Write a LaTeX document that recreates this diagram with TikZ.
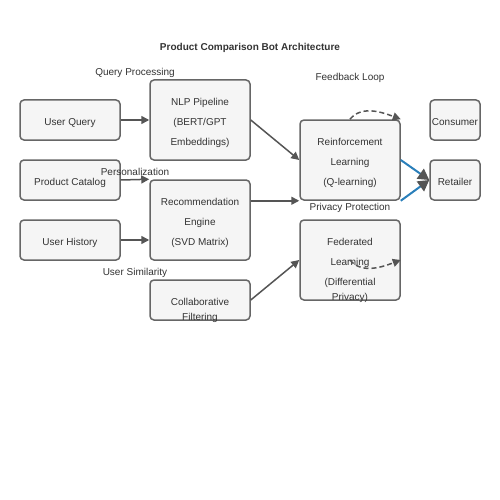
\documentclass[tikz,border=0pt]{standalone}
\usepackage{fontspec}
\setmainfont{Liberation Sans}
\usetikzlibrary{arrows.meta, positioning}

\definecolor{boxfill}{HTML}{F5F5F5}
\definecolor{boxline}{HTML}{666666}
\definecolor{arrgray}{HTML}{555555}
\definecolor{txtgray}{HTML}{333333}
\definecolor{linkblue}{HTML}{2A7FBA}

\newcommand{\boxlines}[1]{\begin{tabular}[t]{@{}c@{}}#1\end{tabular}}

\tikzset{
  blk/.style={draw=boxline, fill=boxfill, line width=1.5pt, rounded corners=4pt,
    minimum width=100pt, minimum height=40pt, inner sep=0pt},
  tall/.style={minimum height=80pt},
  narrow/.style={minimum width=50pt},
  txt/.style={font=\fontsize{10}{20}\selectfont, text=txtgray, anchor=base, inner sep=0pt},
  flow/.style={draw=arrgray, line width=1.5pt, -{Triangle[length=8pt, width=8pt]}},
  link/.style={draw=linkblue, line width=2pt, -{Triangle[length=11pt, width=12pt, color=arrgray]}},
}

\begin{document}
\begin{tikzpicture}[x=1pt, y=-1pt]
        \useasboundingbox (0, 0) rectangle (500, 500);

        \node[txt, font=\bfseries\fontsize{10}{12}\selectfont] (title) at (250, 50.5)
          {Product Comparison Bot Architecture};

        % inputs
        \node[blk] (uq) at (70, 120) {};
        \node[blk] (pc) at (70, 180) {};
        \node[blk] (uh) at (70, 240) {};

        % models
        \node[blk, tall] (nlp) at (200, 120) {};
        \node[blk, tall] (rec) at (200, 220) {};
        \node[blk] (cf) at (200, 300) {};
        \node[blk, tall] (rl) at (350, 160) {};
        \node[blk, tall] (fl) at (350, 260) {};

        % outputs
        \node[blk, narrow] (con) at (455, 120) {};
        \node[blk, narrow] (ret) at (455, 180) {};

        \path (uq.north) ++(0, 26.5) node[txt] (uqt) {User Query};
        \path (pc.north) ++(0, 26.5) node[txt] (pct) {Product Catalog};
        \path (uh.north) ++(0, 26.5) node[txt] (uht) {User History};
        \path (nlp.north) ++(0, 26.5) node[txt] (nlpt)
          {\boxlines{NLP Pipeline\\(BERT/GPT\\Embeddings)}};
        \path (rec.north) ++(0, 26.5) node[txt] (rect)
          {\boxlines{Recommendation\\Engine\\(SVD Matrix)}};
        \path (cf.north) ++(0, 26.5) node[txt] (cft)
          {\boxlines{Collaborative\\[-5pt]Filtering}};
        \path (rl.north) ++(0, 26.5) node[txt] (rlt)
          {\boxlines{Reinforcement\\Learning\\(Q-learning)}};
        \path (fl.north) ++(0, 26.5) node[txt] (flt)
          {\boxlines{Federated\\Learning\\(Differential\\[-5pt]Privacy)}};
        \path (con.north) ++(0, 26.5) node[txt] (cont) {Consumer};
        \path (ret.north) ++(0, 26.5) node[txt] (rett) {Retailer};

        % section labels
        \node[txt] (qp) at (135, 75.5) {Query Processing};
        \node[txt] (pers) at (135, 175) {Personalization};
        \node[txt] (usim) at (135, 275) {User Similarity};
        \node[txt] (fb) at (350, 80.5) {Feedback Loop};
        \node[txt] (priv) at (350, 210) {Privacy Protection};

        \draw[flow] (uq.east) -- (nlp.west);
        \draw[flow] (pc.east) -- (rec.north west);
        \draw[flow] (uh.east) -- (uh.east -| rec.west);
        \draw[flow] (nlp.east) -- (rl.west);
        \draw[flow] (rec.east |- rl.south west) -- (rl.south west);
        \draw[flow] (cf.east) -- (fl.west);

        \draw[link] (rl.east) -- (ret.west);
        \draw[link] (rl.south east) -- (ret.west);

        \draw[flow, dash pattern=on 5pt off 3pt]
          (rl.north) .. controls +(12, -15) and +(-16, -6) .. (rl.north east);
        \draw[flow, dash pattern=on 5pt off 3pt]
          (fl.center) .. controls +(12, 15) and +(-16, 6) .. (fl.east);
      \end{tikzpicture}
\end{document}
